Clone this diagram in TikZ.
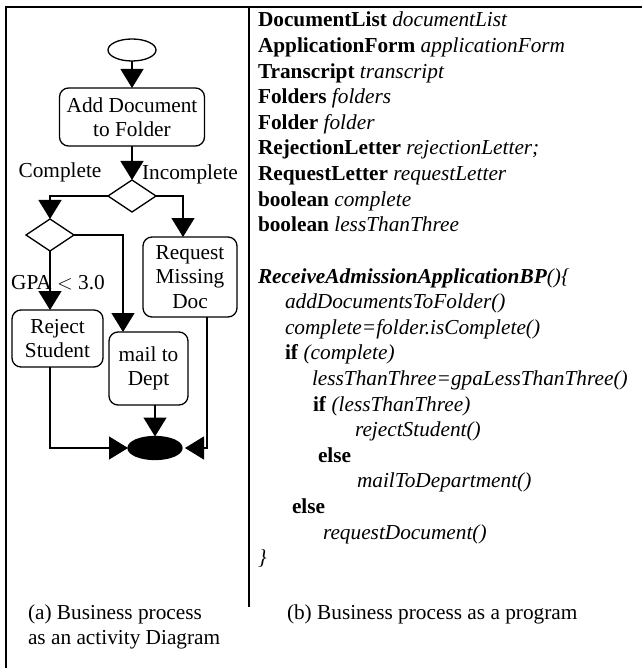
\documentclass[tikz,border=0pt]{standalone}
\usepackage{fontspec}
\setmainfont{Liberation Serif}
\usetikzlibrary{arrows.meta,shapes.geometric}
\begin{document}
\begin{tikzpicture}[x=1pt,y=-1pt,
  every node/.style={font=\fontsize{21.3}{24.5}\selectfont, inner sep=0pt, outer sep=0pt},
  act/.style={draw, line width=1.3pt, rounded corners=9pt, align=center},
  dec/.style={draw, diamond, line width=1.3pt, minimum width=48pt, minimum height=32pt},
  flow/.style={line width=1.3pt, -{Triangle[length=19pt,width=23pt]}},
  frame/.style={line width=2.2pt},
  code/.style={anchor=base west},
  lbl/.style={anchor=base}
]
\useasboundingbox (0,0) rectangle (642,668);
% frame
\coordinate (tl) at (6,7);
\coordinate (tr) at (642,7);
\coordinate (bl) at (6,668);
\coordinate (dt) at (249,7);
\coordinate (db) at (249,607);
\draw[frame] (tr) -- (tl) -- (bl);
\draw[line width=1.5pt] (dt) -- (db);

% activity diagram
\node[draw, ellipse, line width=1.3pt, minimum width=48pt, minimum height=22pt] (start) at (132,50) {};
\node[act, minimum width=145pt, minimum height=58pt] (box1) at (132,117) {Add Document\\to Folder};
\node[dec] (d1) at (132,196) {};
\node[dec] (d2) at (50,235) {};
\node[act, minimum width=94pt, minimum height=80pt] (req) at (190,277) {Request\\Missing\\Doc};
\node[act, minimum width=91pt, minimum height=57pt] (rej) at (57.5,338.5) {Reject\\Student};
\node[act, minimum width=79pt, minimum height=73pt] (mail) at (148.5,368.5) {mail to\\Dept};
\node[draw, ellipse, fill=black, line width=1.3pt, minimum width=54pt, minimum height=23pt] (end) at (155,448) {};

\node[lbl] (lcomp) at (60,178) {Complete};
\node[lbl] (linc) at (190,180) {Incomplete};

\draw[flow] (start.south) -- (box1.north);
\draw[flow] (box1.south) -- (d1.north);
\draw[flow] (d1.west) -| (d2.north);
\draw[flow] (d1.east) -| ([xshift=-7pt]req.north);
\draw[flow] (d2.east) -| ([xshift=-25.5pt]mail.north);
\draw[flow] (d2.south) -- (d2.south |- rej.north);
\draw[flow] ([xshift=-7.5pt]rej.south) |- (end.west);
\draw[flow] ([xshift=6.5pt]mail.south) -- (end.north);
\draw[flow, shorten >=3pt] ([xshift=17pt]req.south) |- (end.east);

\node[lbl] (lgpa) at (58,289) {GPA $<$ 3.0};

% captions
\node[code] (capa1) at (28,619) {(a) Business process};
\node[code] (capa2) at (28,644) {as an activity Diagram};
\node[code] (capb) at (287,619) {(b) Business process as a program};

% program text
\node[code] (t0) at (258,27.0) {\textbf{DocumentList} \textit{documentList}};
\node[code] (t1) at (258,52.6) {\textbf{ApplicationForm} \textit{applicationForm}};
\node[code] (t2) at (258,78.2) {\textbf{Transcript} \textit{transcript}};
\node[code] (t3) at (258,103.8) {\textbf{Folders} \textit{folders}};
\node[code] (t4) at (258,129.4) {\textbf{Folder} \textit{folder}};
\node[code] (t5) at (258,155.0) {\textbf{RejectionLetter} \textit{rejectionLetter;}};
\node[code] (t6) at (258,180.6) {\textbf{RequestLetter} \textit{requestLetter}};
\node[code] (t7) at (258,206.2) {\textbf{boolean} \textit{complete}};
\node[code] (t8) at (258,231.8) {\textbf{boolean} \textit{lessThanThree}};
\node[code] (t10) at (258,283.0) {\textbf{\textit{ReceiveAdmissionApplicationBP}}\textit{()\{}};
\node[code] (t11) at (285,308.6) {\textit{addDocumentsToFolder()}};
\node[code] (t12) at (285,334.2) {\textit{complete=folder.isComplete()}};
\node[code] (t13) at (285,359.8) {\textbf{if} \textit{(complete)}};
\node[code] (t14) at (312,385.4) {\textit{lessThanThree=gpaLessThanThree()}};
\node[code] (t15) at (313,411.0) {\textbf{if} \textit{(lessThanThree)}};
\node[code] (t16) at (355,436.6) {\textit{rejectStudent()}};
\node[code] (t17) at (318,462.2) {\textbf{else}};
\node[code] (t18) at (357,487.8) {\textit{mailToDepartment()}};
\node[code] (t19) at (292,513.4) {\textbf{else}};
\node[code] (t20) at (323,539.0) {\textit{requestDocument()}};
\node[code] (t21) at (258,564.6) {\textit{\}}};
\end{tikzpicture}
\end{document}
